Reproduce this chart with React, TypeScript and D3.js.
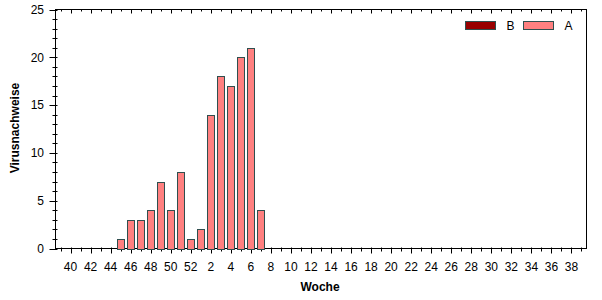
import React from "react";
import * as d3 from "d3";

const weeks: string[] = [
  "39","40","41","42","43","44","45","46","47","48","49","50","51","52",
  "1","2","3","4","5","6","7","8","9","10","11","12","13","14","15","16","17","18","19","20",
  "21","22","23","24","25","26","27","28","29","30","31","32","33","34","35","36","37","38","39b",
];
const seriesA: number[] = [
  0,0,0,0,0,0,1,3,3,4,7,4,8,1,
  2,14,18,17,20,21,4,0,0,0,0,0,0,0,0,0,0,0,0,0,
  0,0,0,0,0,0,0,0,0,0,0,0,0,0,0,0,0,0,0,
];
const seriesB: number[] = weeks.map(() => 0);
const labeledWeeks: string[] = [
  "40","42","44","46","48","50","52","2","4","6","8","10","12","14","16","18","20",
  "22","24","26","28","30","32","34","36","38",
];
const yMajor: number[] = [0, 5, 10, 15, 20, 25];
const yMinor: number[] = d3.range(0, 26);
const legendItems: { name: string; color: string }[] = [
  { name: "B", color: "#990000" },
  { name: "A", color: "#ff8080" },
];

export default function App() {
  const W = 602, H = 300;
  const left = 55.5, right = 586.5, top = 9.5, bottom = 248.5;
  const x = d3.scaleBand<string>().domain(weeks).range([left, right]).paddingInner(0.28).paddingOuter(0.14);
  const center = (w: string) => (x(w) as number) + x.bandwidth() / 2;
  const y = d3.scaleLinear().domain([0, 25]).range([bottom, top]);
  const font = "'Liberation Sans', Arial, sans-serif";
  const tickColor = "#000";

  return (
    <svg width={W} height={H} style={{ position: "absolute", left: 0, top: 0, background: "#fff" }} fontFamily={font}>
      {/* frame */}
      <rect x={left} y={top} width={right - left} height={bottom - top} fill="none" stroke="#000" strokeWidth={1} />
      {/* y ticks */}
      {yMinor.map((v) => (
        <line key={"ym" + v} x1={left - (v % 5 === 0 ? 6 : 3)} x2={left + 2} y1={Math.round(y(v)) + 0.5} y2={Math.round(y(v)) + 0.5} stroke={tickColor} />
      ))}
      {yMajor.map((v) => (
        <text key={"yl" + v} x={44} y={y(v)} dy="0.35em" textAnchor="end" fontSize={12} fill="#000">{v}</text>
      ))}
      {/* x ticks bottom and top */}
      {weeks.map((w) => {
        const major = labeledWeeks.includes(w);
        const cx = Math.round(center(w)) + 0.5;
        return (
          <g key={"xt" + w}>
            <line x1={cx} x2={cx} y1={bottom - 1} y2={bottom + (major ? 5 : 3)} stroke={tickColor} />
            <line x1={cx} x2={cx} y1={top} y2={top + (major ? 4 : 2)} stroke={tickColor} />
          </g>
        );
      })}
      {labeledWeeks.map((w) => (
        <text key={"xl" + w} x={center(w)} y={271} textAnchor="middle" fontSize={12} fill="#000">{w}</text>
      ))}
      {/* bars (stacked B + A) */}
      {weeks.map((w, i) => {
        const b = seriesB[i], a = seriesA[i];
        const bx = Math.round(x(w) as number) + 0.5;
        const bw = Math.round(x.bandwidth());
        return (
          <g key={"bar" + w}>
            {b > 0 && (
              <rect x={bx} y={y(b)} width={bw} height={y(0) - y(b)} fill={legendItems[0].color} stroke="#2f4f4f" />
            )}
            {a > 0 && (
              <rect x={bx} y={Math.round(y(a + b)) + 0.5} width={bw} height={Math.round(y(b)) - Math.round(y(a + b))} fill={legendItems[1].color} stroke="#2f4f4f" />
            )}
          </g>
        );
      })}
      {/* axis titles */}
      <text x={0} y={0} transform={`translate(19,128) rotate(-90)`} textAnchor="middle" fontSize={12} fontWeight="bold" fill="#000">Virusnachweise</text>
      <text x={320} y={291} textAnchor="middle" fontSize={12} fontWeight="bold" fill="#000">Woche</text>
      {/* legend */}
      {legendItems.map((it, i) => (
        <g key={"lg" + it.name} transform={`translate(${465.5 + i * 58},21.5)`}>
          <rect x={0} y={0} width={30} height={8} fill={it.color} stroke="#2f4f4f" />
          <text x={41} y={4} dy="0.35em" textAnchor="start" fontSize={12} fill="#000">{it.name}</text>
        </g>
      ))}
    </svg>
  );
}
